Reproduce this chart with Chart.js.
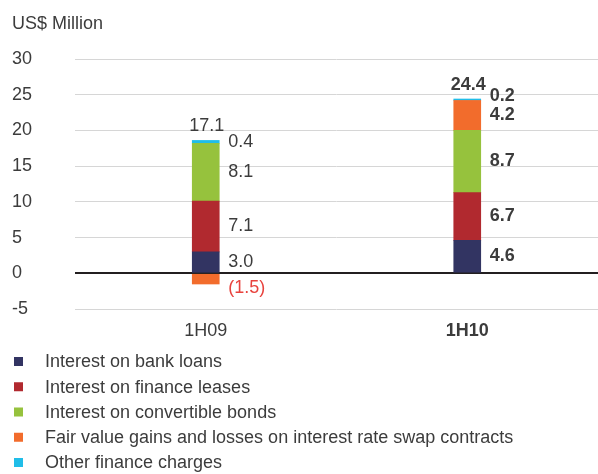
<!DOCTYPE html>
<html>
<head>
<meta charset="utf-8">
<script src="https://cdn.jsdelivr.net/npm/chart.js@4.4.1/dist/chart.umd.min.js"></script>
<style>
  html, body { margin: 0; padding: 0; background: #fff; }
  #wrap { width: 598px; height: 474px; position: relative; }
</style>
</head>
<body>
<div id="wrap"><canvas id="financeChart"></canvas></div>
<script>
// chart data
const categories = ['1H09', '1H10'];
const seriesNames = [
  'Interest on bank loans',
  'Interest on finance leases',
  'Interest on convertible bonds',
  'Fair value gains and losses on interest rate swap contracts',
  'Other finance charges'
];
const bankLoans = [3.0, 4.6];
const financeLeases = [7.1, 6.7];
const convertibleBonds = [8.1, 8.7];
const fairValue = [-1.5, 4.2];
const otherCharges = [0.4, 0.2];
const totals = [17.1, 24.4];
const yTicks = [-5, 0, 5, 10, 15, 20, 25, 30];

const colors = ['#323462', '#b1292f', '#96c23d', '#f26c2c', '#20bde8'];
const FONT = '"Liberation Sans", Arial, sans-serif';
const TEXT = '#3c3c3c';

const seriesValues = [bankLoans, financeLeases, convertibleBonds, fairValue, otherCharges];

const fmt = v => v < 0 ? '(' + Math.abs(v).toFixed(1) + ')' : v.toFixed(1);

// value labels right of every segment, totals on top
const valueLabels = {
  id: 'valueLabels',
  afterDatasetsDraw(chart) {
    const ctx = chart.ctx;
    ctx.save();
    categories.forEach((cat, i) => {
      const bold = i === categories.length - 1;
      ctx.font = (bold ? 'bold ' : '') + '18px ' + FONT;
      ctx.textBaseline = 'middle';
      let lastY = Infinity;
      let topY = Infinity, cx = 0;
      chart.data.datasets.forEach((ds, d) => {
        const bar = chart.getDatasetMeta(d).data[i];
        const v = ds.data[i];
        const half = bar.width / 2;
        cx = bar.x;
        const top = Math.min(bar.y, bar.base);
        const bottom = Math.max(bar.y, bar.base);
        topY = Math.min(topY, top);
        ctx.textAlign = 'left';
        if (v < 0) {
          ctx.fillStyle = '#e8433e';
          ctx.fillText(fmt(v), bar.x + half + 9, bottom + 4);
          return;
        }
        let y = (top + bottom) / 2;
        if (y > lastY - 19) y = lastY - 19;
        lastY = y;
        ctx.fillStyle = TEXT;
        ctx.fillText(fmt(v), bar.x + half + 9, y);
      });
      ctx.textAlign = 'center';
      ctx.fillStyle = TEXT;
      ctx.fillText(totals[i].toFixed(1), cx + 1, topY - 14);
    });
    ctx.restore();
  }
};

// axis title and vertical legend
const extras = {
  id: 'extras',
  afterDraw(chart) {
    const ctx = chart.ctx;
    ctx.save();
    ctx.font = '18px ' + FONT;
    ctx.fillStyle = TEXT;
    ctx.textAlign = 'left';
    ctx.textBaseline = 'middle';
    ctx.fillText('US$ Million', 12, 24);
    chart.data.datasets.forEach((ds, d) => {
      const y = 361.5 + d * 25.25;
      ctx.fillStyle = ds.backgroundColor;
      ctx.fillRect(14, y - 4.5, 9, 9);
      ctx.fillStyle = TEXT;
      ctx.fillText(ds.label, 45, y + 1);
    });
    ctx.restore();
  }
};

new Chart(document.getElementById('financeChart'), {
  type: 'bar',
  data: {
    labels: categories,
    datasets: seriesNames.map((name, k) => ({
      label: name,
      data: seriesValues[k],
      backgroundColor: colors[k],
      borderWidth: 0,
      barThickness: 27
    }))
  },
  options: {
    responsive: true,
    maintainAspectRatio: false,
    animation: false,
    layout: { padding: { top: 59, left: 12, right: 0, bottom: 135 } },
    plugins: {
      legend: { display: false },
      tooltip: { enabled: false }
    },
    scales: {
      x: {
        stacked: true,
        grid: { display: false },
        border: { display: false },
        afterFit: s => { s.height = 30; },
        ticks: {
          padding: 3,
          color: TEXT,
          font: ctx => ({ family: FONT, size: 18, weight: ctx.index === 1 ? 'bold' : 'normal' })
        }
      },
      y: {
        stacked: true,
        min: yTicks[0],
        max: yTicks[yTicks.length - 1],
        afterFit: s => { s.width = 63; },
        afterBuildTicks: s => { s.ticks = yTicks.map(v => ({ value: v })); },
        border: { display: false },
        grid: {
          drawTicks: false,
          color: ctx => ctx.tick && ctx.tick.value === 0 ? '#231f20' : '#d6d6d6',
          lineWidth: ctx => ctx.tick && ctx.tick.value === 0 ? 2 : 1
        },
        ticks: {
          crossAlign: 'far',
          padding: 43,
          color: TEXT,
          font: { family: FONT, size: 18 }
        }
      }
    }
  },
  plugins: [valueLabels, extras]
});
</script>
</body>
</html>
